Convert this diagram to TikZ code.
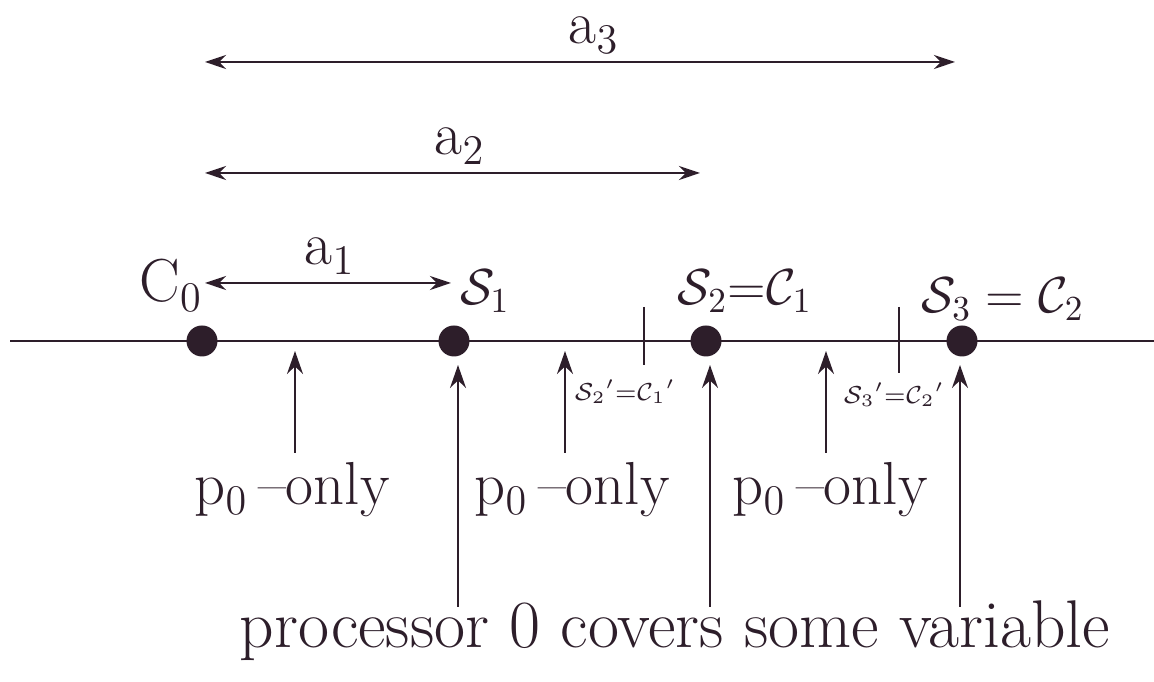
\documentclass[tikz,border=0pt]{standalone}
\usepackage{amsmath, amssymb}
\usepackage{tikz}
\usetikzlibrary{arrows.meta, calc}
\usepackage{xcolor}
\definecolor{Tinta}{RGB}{45,30,42}
\tikzset{%
  dotnode/.style ={circle, fill=Tinta, minimum size=0.31cm, inner sep=0pt},
  spanarr/.style ={{Stealth[length=6pt,width=4pt]}-{Stealth[length=6pt,width=4pt]},
                   line width=0.8pt, draw=Tinta},
  uparr/.style   ={-{Stealth[length=6.5pt,width=4.5pt]}, line width=0.8pt, draw=Tinta},
  axisln/.style  ={-, line width=0.8pt, draw=Tinta},
  lbl/.style     ={font=\LARGE, text=Tinta, inner sep=0pt, anchor=base},
  hand/.style    ={font=\Large, text=Tinta, inner sep=0pt, anchor=base},
  handsm/.style  ={font=\scriptsize, text=Tinta, inner sep=0pt}
}
\begin{document}
\begin{tikzpicture}
  \useasboundingbox (0,0) rectangle (11.54,6.82);
  \coordinate (west) at (0.10,3.41); \coordinate (east) at (11.54,3.41);
  \draw[axisln] (west)--(east);
  \foreach \x/\n in {2.02/0,4.54/1,7.06/2,9.62/3}{\node[dotnode] (d\n) at (\x,3.41) {};}
  \foreach \i/\xr/\y/\xl in {1/4.51/3.99/3.30, 2/7.00/5.09/4.60, 3/9.55/6.20/5.94}{
    \coordinate (aL\i) at (2.05,\y); \coordinate (aR\i) at (\xr,\y);
    \draw[spanarr] (aL\i)--(aR\i);
    \node[lbl] (a\i) at (\xl,\y+0.18) {a$_{\i}$};
  }
  \node[lbl] (c0) at (1.71,3.80) {C$_0$};
  \node[hand] (s1) at (4.85,3.77) {$\mathcal{S}_1$};
  \node[hand] (s2) at (7.45,3.77) {$\mathcal{S}_2{=}\mathcal{C}_1$};
  \node[hand] (s3) at (10.03,3.69) {$\mathcal{S}_3 = \mathcal{C}_2$};
  \node[handsm] (s2p) at (6.25,2.90) {$\mathcal{S}_2{}'{=}\mathcal{C}_1{}'$};
  \node[handsm] (s3p) at (8.94,2.87) {$\mathcal{S}_3{}'{=}\mathcal{C}_2{}'$};
  \foreach \x/\yb/\n in {6.44/3.17/2,8.99/3.09/3}{
    \coordinate (tT\n) at (\x,3.75); \coordinate (tB\n) at (\x,\yb);
    \draw[axisln] (tT\n)--(tB\n);
  }
  \foreach \x/\xl/\n in {2.95/2.92/1,5.65/5.72/2,8.26/8.30/3}{
    \node[lbl] (p\n) at (\xl,1.77) {p$_0$\,--only};
    \coordinate (ub\n) at (\x,2.29); \coordinate (ut\n) at (\x,3.31);
    \draw[uparr] (ub\n)--(ut\n);
  }
  \node[lbl, font=\fontsize{19.2}{23}\selectfont] (proc) at (6.75,0.34)
    {processor 0 covers some variable};
  \foreach \x/\n in {4.58/1,7.10/2,9.60/3}{
    \coordinate (lb\n) at (\x,0.75); \coordinate (lt\n) at (\x,3.17);
    \draw[uparr] (lb\n)--(lt\n);
  }
\end{tikzpicture}
\end{document}
